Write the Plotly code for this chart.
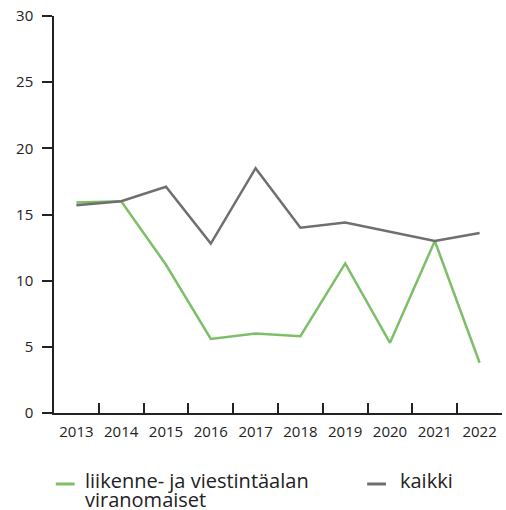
import plotly.graph_objects as go

years = ["2013", "2014", "2015", "2016", "2017", "2018", "2019", "2020", "2021", "2022"]
liikenne = [15.9, 16.0, 11.2, 5.6, 6.0, 5.8, 11.3, 5.3, 13.0, 3.8]
kaikki = [15.7, 16.0, 17.1, 12.8, 18.5, 14.0, 14.4, 13.7, 13.0, 13.6]
y_ticks = [0, 5, 10, 15, 20, 25, 30]

series_names = [["liikenne- ja viestintäalan", "viranomaiset"], ["kaikki"]]

GREEN = "#7dbf68"
GREY = "#6f6f6f"
TEXT = "#222222"
FONT = "Open Sans"

fig = go.Figure()
fig.add_trace(go.Scatter(
    x=years, y=liikenne, mode="lines", name=" ".join(series_names[0]),
    line=dict(color=GREEN, width=2.5), showlegend=False,
))
fig.add_trace(go.Scatter(
    x=years, y=kaikki, mode="lines", name=series_names[1][0],
    line=dict(color=GREY, width=2.5), showlegend=False,
))

# Legend below the plot: short line sample + label lines, in paper coordinates
legend_items = [
    (GREEN, series_names[0], 0.004, 0.064),
    (GREY, series_names[1], 0.699, 0.768),
]
sample_y = -0.1788
text_y = -0.1700
row_gap = 0.0475
for color, lines, x0, xt in legend_items:
    fig.add_shape(type="line", xref="paper", yref="paper",
                  x0=x0, x1=x0 + 0.042, y0=sample_y, y1=sample_y,
                  line=dict(color=color, width=3))
    for i, txt in enumerate(lines):
        fig.add_annotation(text=txt, xref="paper", yref="paper",
                           x=xt, y=text_y - i * row_gap,
                           xanchor="left", yanchor="middle", showarrow=False,
                           font=dict(size=20, color=TEXT, family=FONT))

fig.update_layout(
    width=506, height=510,
    margin=dict(l=54, r=4, t=16, b=97),
    paper_bgcolor="white", plot_bgcolor="white",
    font=dict(family=FONT, color=TEXT, size=15),
    showlegend=False,
    xaxis=dict(
        type="category", tickmode="array", tickvals=years,
        showline=True, linecolor=TEXT, linewidth=1.5,
        ticks="inside", ticklen=10, tickcolor=TEXT, tickwidth=1.5,
        tickson="boundaries", showgrid=False, zeroline=False,
        tickfont=dict(size=15), range=[-0.5, 9.5],
        ticklabelstandoff=4,
    ),
    yaxis=dict(
        range=[0, 30], tickvals=y_ticks,
        showline=True, linecolor=TEXT, linewidth=1.5,
        ticks="outside", ticklen=10, tickcolor=TEXT, tickwidth=1.5,
        showgrid=False, zeroline=False,
        tickfont=dict(size=15), ticklabelstandoff=6,
    ),
)

fig.write_html("out.html")
